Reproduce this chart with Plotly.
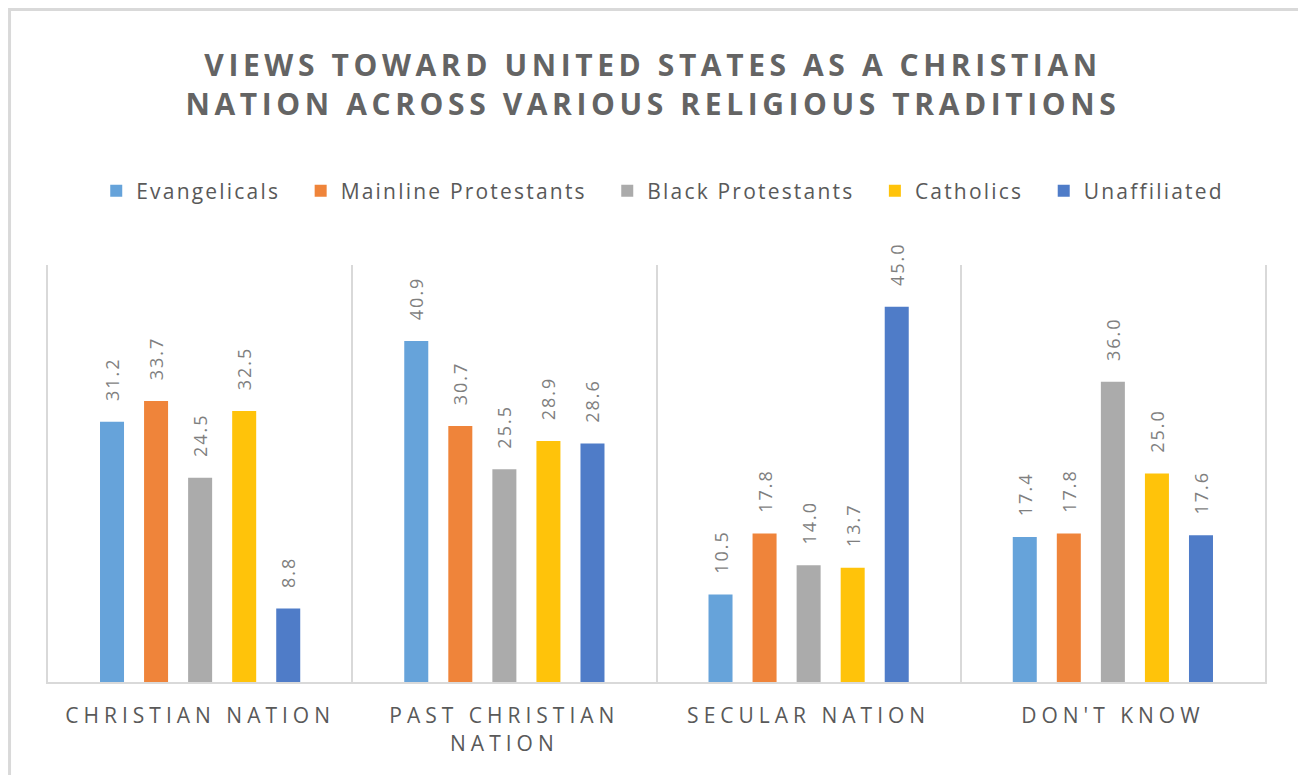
import plotly.graph_objects as go

categories = ["CHRISTIAN NATION", "PAST CHRISTIAN NATION", "SECULAR NATION", "DON'T KNOW"]
tick_labels = ["CHRISTIAN NATION", "PAST CHRISTIAN<br>NATION", "SECULAR NATION", "DON'T KNOW"]
series_names = ["Evangelicals", "Mainline Protestants", "Black Protestants", "Catholics", "Unaffiliated"]
evangelicals = [31.2, 40.9, 10.5, 17.4]
mainline = [33.7, 30.7, 17.8, 17.8]
black_protestants = [24.5, 25.5, 14.0, 36.0]
catholics = [32.5, 28.9, 13.7, 25.0]
unaffiliated = [8.8, 28.6, 45.0, 17.6]
title_lines = ["VIEWS TOWARD UNITED STATES AS A CHRISTIAN", "NATION ACROSS VARIOUS RELIGIOUS TRADITIONS"]
colors = ["#66A3DA", "#EF843A", "#ABABAB", "#FFC30A", "#4F7CC8"]

FONT = "Open Sans"
values = [evangelicals, mainline, black_protestants, catholics, unaffiliated]


def spaced(s, px):
    return f'<span style="letter-spacing:{px}px">{s}</span>'


def spaced_multiline(s, px):
    return "<br>".join(spaced(part, px) for part in s.split("<br>"))


fig = go.Figure()
for name, vals, col in zip(series_names, values, colors):
    fig.add_trace(go.Bar(
        name=spaced(name, 2.2) + spaced("\u00a0", 10), x=categories, y=vals,
        marker_color=col, marker_line_width=0,
        text=[spaced("\u00a0", 13) + spaced(f"{v:.1f}", 2) for v in vals],
        textposition="outside", textangle=-90, constraintext="none",
        textfont=dict(family=FONT, size=18, color="#7f7f7f"), cliponaxis=False,
    ))

fig.update_layout(
    width=1290, height=767,
    margin=dict(l=40, r=33, t=257, b=93),
    paper_bgcolor="white", plot_bgcolor="white",
    barmode="group", bargap=0.276, bargroupgap=0.455,
    title=dict(text="<br>".join(spaced(t, 4.6) for t in title_lines),
               x=0.5, xanchor="center", y=0.9107, yanchor="middle",
               font=dict(family=FONT, size=30, color="#646464", weight="bold")),
    legend=dict(orientation="h", x=0.5117, xanchor="center", y=1.177, yanchor="middle",
                font=dict(family=FONT, size=21, color="#595959"), traceorder="normal"),
    xaxis=dict(type="category", tickson="boundaries", showgrid=True, gridcolor="#d9d9d9", gridwidth=2,
               showline=True, linecolor="#d9d9d9", linewidth=2, ticks="", ticklabelstandoff=14,
               tickmode="array", tickvals=categories,
               ticktext=[spaced_multiline(t, 5) for t in tick_labels],
               tickfont=dict(family=FONT, size=21, color="#595959")),
    yaxis=dict(range=[0, 50], showticklabels=False, showgrid=False, zeroline=False, ticks="",
               showline=True, mirror=True, linecolor="#d9d9d9", linewidth=2),
    shapes=[dict(type="rect", xref="paper", yref="paper", x0=-0.0316, x1=1.1, y0=-0.4, y1=1.6127,
                 line=dict(color="#d9d9d9", width=3), fillcolor="rgba(0,0,0,0)", layer="below")],
)

fig.write_html("out.html")
